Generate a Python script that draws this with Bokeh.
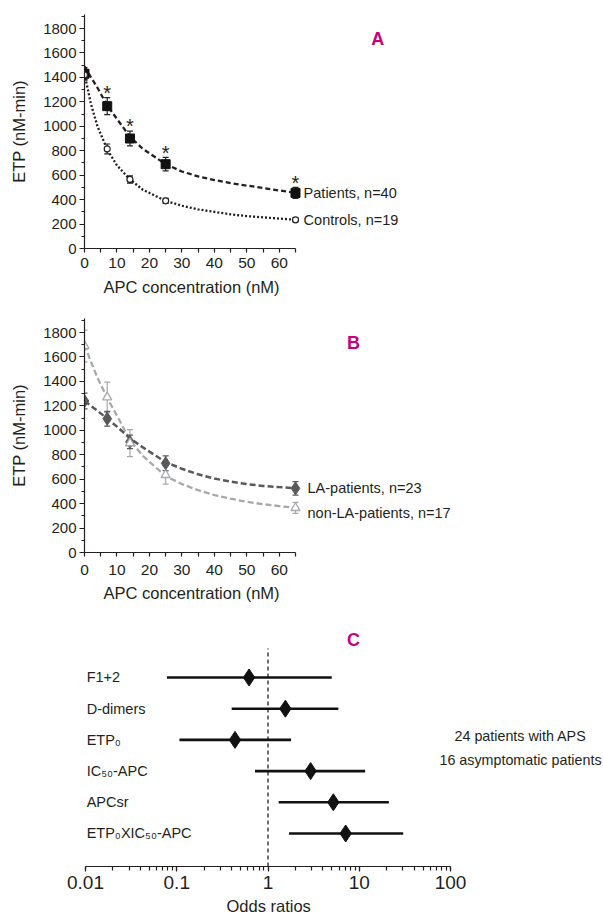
from bokeh.plotting import figure
from bokeh.models import (Range1d, FixedTicker, ColumnDataSource, Whisker, TeeHead, Label,
                          LogTicker, CustomJSTickFormatter, Title)
from bokeh.layouts import column
from bokeh.embed import file_html
from bokeh.resources import INLINE
from bokeh.core.properties import value

# ---------------- data ----------------
apc = [0, 7, 14, 25, 65]
patients = [1430, 1165, 900, 690, 455]
patients_err = [50, 70, 60, 55, 45]
controls = [1420, 815, 565, 390, 235]
controls_err = [40, 40, 30, 20, 15]

fit_x = [0, 2, 4, 7, 10, 14, 18, 25, 30, 35, 40, 45, 50, 55, 60, 65]
patients_fit = [1490, 1400, 1315, 1170, 1060, 915, 815, 690, 630, 590, 560, 535, 515, 495, 475, 455]
controls_fit = [1430, 1180, 1000, 810, 680, 565, 480, 390, 350, 320, 300, 280, 265, 255, 245, 235]

la = [1240, 1095, 905, 730, 525]
la_err = [65, 60, 55, 60, 55]
nonla = [1690, 1270, 895, 635, 365]
nonla_err = [130, 125, 110, 75, 45]
la_fit = [1240, 1200, 1160, 1095, 1030, 935, 860, 740, 685, 640, 605, 580, 560, 545, 535, 525]
nonla_fit = [1700, 1560, 1430, 1265, 1120, 920, 790, 625, 560, 510, 470, 440, 415, 395, 380, 365]

or_labels = ["F1+2", "D-dimers", "ETP\u2080", "IC\u2085\u2080-APC", "APCsr", "ETP\u2080XIC\u2085\u2080-APC"]
or_vals = [0.62, 1.55, 0.435, 2.93, 5.2, 7.1]
ci_low = [0.078, 0.40, 0.107, 0.72, 1.31, 1.70]
ci_high = [5.0, 5.9, 1.79, 11.6, 21.1, 30.3]

x_ticks = [0, 10, 20, 30, 40, 50, 60]
x_minor = [5, 15, 25, 35, 45, 55, 65]
y_ticks = list(range(0, 1801, 200))
y_minor = list(range(100, 1901, 200))

# ---------------- style ----------------
FONT = "Liberation Sans"
TXT = "#231f20"
MAG = "#c8007d"
W = 603
LEFT = 84

def style_axis(ax, lab_size, tick_size):
    ax.axis_line_color = TXT
    ax.axis_line_width = 1.2
    ax.major_tick_line_color = TXT
    ax.minor_tick_line_color = TXT
    ax.major_tick_line_width = 1.2
    ax.minor_tick_line_width = 1.2
    ax.major_tick_in = 0
    ax.minor_tick_in = 0
    ax.major_label_text_font = FONT
    ax.major_label_text_font_size = tick_size
    ax.major_label_text_color = TXT
    ax.axis_label_text_font = FONT
    ax.axis_label_text_font_size = lab_size
    ax.axis_label_text_font_style = "normal"
    ax.axis_label_text_color = TXT

def base(height, top, bottom, xr, yr, xtype="linear"):
    p = figure(width=W, height=height, x_range=xr, y_range=yr, x_axis_type=xtype,
               output_backend="svg", toolbar_location=None,
               min_border_top=top, min_border_bottom=bottom,
               min_border_left=LEFT, min_border_right=0)
    p.grid.visible = False
    p.outline_line_color = None
    return p

def label(p, x, y, t, size, align="left", color=TXT, bold=False):
    p.add_layout(Label(x=x, y=y, text=t, text_font=FONT, text_font_size=size,
                       text_font_style="bold" if bold else "normal", text_color=color,
                       text_align=align, text_baseline="middle"))

def bottom_title(p, t, offset, standoff):
    p.add_layout(Title(text=t, align="left", offset=offset, standoff=standoff,
                       text_font=FONT, text_font_size="16.5px", text_font_style="normal",
                       text_color=TXT), "below")

# x scale: 0 at px 84, 65 at px 295
x_end = 65 * (W - LEFT) / (295 - 84)
y_end = 1915

def curve_panel(height, top, bottom, tick_standoff, title_standoff):
    p = base(height, top, bottom, Range1d(0, x_end), Range1d(0, y_end))
    p.xaxis.bounds = (0, 65)
    p.xaxis.ticker = FixedTicker(ticks=x_ticks, minor_ticks=x_minor)
    p.yaxis.ticker = FixedTicker(ticks=y_ticks, minor_ticks=y_minor)
    p.yaxis.axis_label = "ETP (nM-min)"
    style_axis(p.xaxis[0], "16.5px", "15.5px")
    style_axis(p.yaxis[0], "16.5px", "15px")
    p.xaxis.major_tick_out = 4
    p.xaxis.minor_tick_out = 4
    p.yaxis.major_tick_out = 5
    p.yaxis.minor_tick_out = 3
    p.xaxis.major_label_standoff = tick_standoff
    p.yaxis.major_label_standoff = 3
    p.yaxis.axis_label_standoff = 12
    bottom_title(p, "APC concentration (nM)", 19, title_standoff)
    return p

def whisk(p, xs, ys, errs, color):
    src = ColumnDataSource(dict(x=xs, lo=[a - b for a, b in zip(ys, errs)],
                                hi=[a + b for a, b in zip(ys, errs)]))
    w = Whisker(source=src, base="x", lower="lo", upper="hi", line_color=color, line_width=1.2,
                upper_head=TeeHead(size=6, line_color=color, line_width=1.2),
                lower_head=TeeHead(size=6, line_color=color, line_width=1.2))
    p.add_layout(w)

# ---------------- panel A ----------------
pA = curve_panel(302, 14, 54, 5, 10)
pA.line(fit_x, patients_fit, line_color="#231f20", line_width=2.3, line_dash="5 3")
pA.line(fit_x, controls_fit, line_color="#231f20", line_width=2.3, line_dash="2 2")
whisk(pA, apc, patients, patients_err, TXT)
whisk(pA, apc, controls, controls_err, TXT)
pA.scatter(apc, patients, marker="square", size=9, color="#111111")
pA.scatter(apc, controls, marker="circle", size=6, fill_color="white", line_color=TXT, line_width=1.2)
star_x = apc[1:]
star_y = [v + e - 50 for v, e in zip(patients[1:], patients_err[1:])]
pA.text(star_x, star_y, text=["*"] * len(star_x), text_font=value(FONT), text_font_size="20px",
        text_align="center", text_baseline="bottom", text_color=TXT)
pA.text([67.5, 67.5], [patients[-1], controls[-1]], text=["Patients, n=40", "Controls, n=19"],
        text_font=value(FONT), text_font_size="14.5px", text_baseline="middle", text_color=TXT)
label(pA, 90.3, 1718, "A", "18px", align="center", color=MAG, bold=True)

# ---------------- panel B ----------------
pB = curve_panel(308, 16, 58, 8, 8)
LA_C = "#58595b"
NL_C = "#a7a9ac"
pB.line(fit_x, nonla_fit, line_color=NL_C, line_width=2.3, line_dash="6 3")
pB.line(fit_x, la_fit, line_color=LA_C, line_width=2.5, line_dash="6 3")
whisk(pB, apc, nonla, nonla_err, NL_C)
whisk(pB, apc, la, la_err, LA_C)
pB.scatter(apc, la, marker="diamond", size=13, color=LA_C)
pB.scatter(apc, nonla, marker="triangle", size=9, fill_color="white", line_color=NL_C, line_width=1.3)
pB.text([68.7, 68.7], [la[-1], nonla[-1] - 45], text=["LA-patients, n=23", "non-LA-patients, n=17"],
        text_font=value(FONT), text_font_size="14.5px", text_baseline="middle", text_color=TXT)
label(pB, 82.9, 1718, "B", "18px", align="center", color=MAG, bold=True)

# ---------------- panel C ----------------
dec = 91.25  # px per decade, 0.01 at px 85
lx0 = 10 ** (-2 - (85 - LEFT) / dec)
lx1 = 10 ** (-2 + (W - 85) / dec)
y0 = -0.058
pC = base(310, 20, 54, Range1d(lx0, lx1), Range1d(y0, 7.506), xtype="log")
pC.yaxis.visible = False
pC.xaxis.bounds = (0.01, 100)
pC.xaxis.ticker = LogTicker(num_minor_ticks=10, desired_num_ticks=5)
pC.xaxis.formatter = CustomJSTickFormatter(code="return String(Number(tick.toPrecision(2)));")
style_axis(pC.xaxis[0], "16.5px", "19px")
pC.xaxis.major_tick_out = 5
pC.xaxis.minor_tick_out = 4
pC.xaxis.major_label_standoff = 4
bottom_title(pC, "Odds ratios", 142, 6)

rows = [6 - i for i in range(len(or_labels))]
pC.segment(x0=[1], y0=[y0], x1=[1], y1=[6.93], line_color=TXT, line_width=1.3, line_dash="4 3")
pC.segment(x0=ci_low, y0=rows, x1=ci_high, y1=rows, line_color="#111111", line_width=2.6)
pC.scatter(or_vals, rows, marker="diamond", size=17, color="#111111")
for t, r in zip(or_labels, rows):
    label(pC, 0.0103, r, t, "14.5px")
label(pC, 585, 4.109, "24 patients with APS", "14.3px", align="center")
label(pC, 585, 3.371, "16 asymptomatic patients", "14.3px", align="center")
label(pC, 8.65, 7.186, "C", "18px", align="center", color=MAG, bold=True)

layout = column(pA, pB, pC, spacing=0)
open("out.html", "w").write(file_html(layout, INLINE))
